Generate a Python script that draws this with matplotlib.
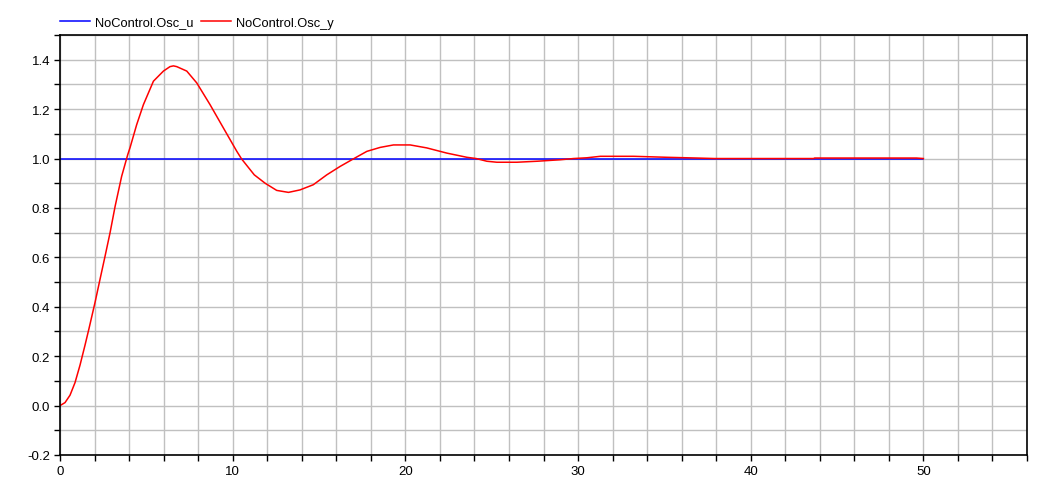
import matplotlib
matplotlib.use("Agg")
import matplotlib.pyplot as plt
from matplotlib.ticker import MultipleLocator

plt.rcParams['font.family'] = ['Liberation Sans', 'DejaVu Sans']

# input signal (constant step)
u_time = [0.0, 50.0]
u_vals = [1.0, 1.0]

# output response
y_time = [0.0, 0.29, 0.58, 0.87, 1.16, 1.45, 1.68, 2.03, 2.32, 2.61, 2.90, 3.19,
          3.57, 3.92, 4.06, 4.44, 4.83, 5.41, 5.99, 6.37, 6.57, 6.76, 7.34, 7.92,
          8.69, 9.46, 10.24, 10.52, 11.25, 11.88, 12.55, 13.23, 13.90, 14.67,
          15.45, 16.22, 17.00, 17.77, 18.54, 19.31, 20.28, 21.24, 22.40, 23.56,
          24.10, 24.72, 25.30, 26.46, 27.62, 28.97, 29.74, 30.51, 31.29, 33.22,
          35.15, 36.88, 37.90, 43.64, 43.70, 49.60, 50.0]
y_vals = [0.0, 0.012, 0.042, 0.093, 0.164, 0.245, 0.312, 0.418, 0.512, 0.605, 0.700, 0.806,
          0.928, 1.015, 1.045, 1.137, 1.218, 1.313, 1.354, 1.372, 1.375, 1.372, 1.354, 1.306,
          1.218, 1.124, 1.029, 0.998, 0.934, 0.900, 0.871, 0.863, 0.873, 0.894,
          0.934, 0.968, 0.999, 1.029, 1.045, 1.055, 1.055, 1.043, 1.022, 1.005,
          1.000, 0.989, 0.985, 0.985, 0.989, 0.995, 1.000, 1.003, 1.009, 1.009,
          1.005, 1.002, 1.000, 1.000, 1.002, 1.002, 1.000]

fig = plt.figure(figsize=(10.52, 4.81), dpi=100)
ax = fig.add_axes([60/1052, 25/481, 967/1052, 420/481])

ax.plot(u_time, u_vals, color='#0000ff', lw=1.1, label='NoControl.Osc_u')
ax.plot(y_time, y_vals, color='#ff0000', lw=1.1, label='NoControl.Osc_y')

ax.set_xlim(0, 56)
ax.set_ylim(-0.2, 1.5)
ax.xaxis.set_major_locator(MultipleLocator(10))
ax.xaxis.set_minor_locator(MultipleLocator(2))
ax.yaxis.set_major_locator(MultipleLocator(0.2))
ax.yaxis.set_minor_locator(MultipleLocator(0.1))
ax.yaxis.set_major_formatter(matplotlib.ticker.FormatStrFormatter('%.1f'))

ax.grid(True, which='both', color='#c0c0c0', lw=1.0)
ax.set_axisbelow(True)
ax.tick_params(which='both', direction='out', length=4, width=1, labelsize=9.5,
               top=False, right=False, pad=3)
for s in ax.spines.values():
    s.set_linewidth(1.2)
    s.set_color('black')

ax.legend(loc='lower left', bbox_to_anchor=(-0.007, 1.0), ncol=2, frameon=False,
          fontsize=9.3, handlelength=2.35, handletextpad=0.4, columnspacing=0.55,
          borderaxespad=0.1)

fig.savefig('out.png', dpi=100)
